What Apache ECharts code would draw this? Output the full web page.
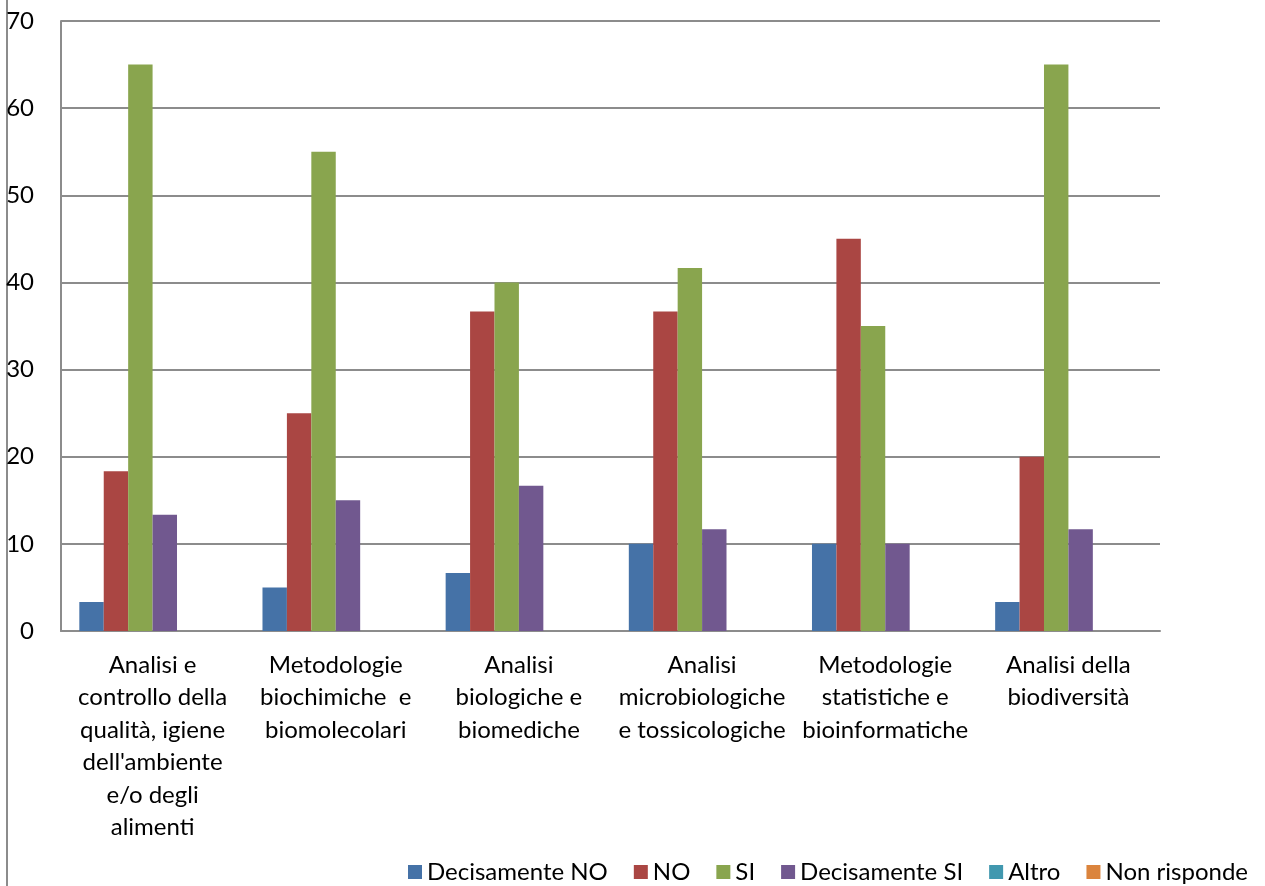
<!DOCTYPE html>
<html>
<head>
<meta charset="utf-8">
<script src="https://cdn.jsdelivr.net/npm/echarts@6/dist/echarts.min.js"></script>
<style>
html,body{margin:0;padding:0;background:#fff;}
#c{width:1265px;height:886px;}
</style>
</head>
<body>
<div id="c"></div>
<script>
const categories = [
  "Analisi e\ncontrollo della\nqualità, igiene\ndell'ambiente\ne/o degli\nalimenti",
  "Metodologie\nbiochimiche  e\nbiomolecolari",
  "Analisi\nbiologiche e\nbiomediche",
  "Analisi\nmicrobiologiche\ne tossicologiche",
  "Metodologie\nstatistiche e\nbioinformatiche",
  "Analisi della\nbiodiversità"
];
const seriesNames = ["Decisamente NO", "NO", "SI", "Decisamente SI", "Altro", "Non risponde"];
const decisamenteNO = [3.33, 5, 6.67, 10, 10, 3.33];
const no = [18.33, 25, 36.67, 36.67, 45, 20];
const si = [65, 55, 40, 41.67, 35, 65];
const decisamenteSI = [13.33, 15, 16.67, 11.67, 10, 11.67];
const altro = [0, 0, 0, 0, 0, 0];
const nonRisponde = [0, 0, 0, 0, 0, 0];
const yTicks = [0, 10, 20, 30, 40, 50, 60, 70];

const colors = ["#4572A7", "#AA4643", "#89A54E", "#71588F", "#4198AF", "#DB843D"];
const values = [decisamenteNO, no, si, decisamenteSI, altro, nonRisponde];
const font = "Lato, 'Open Sans', sans-serif";

const chart = echarts.init(document.getElementById('c'));
chart.setOption({
  animation: false,
  color: colors,
  textStyle: { fontFamily: font, color: '#000' },
  grid: { left: 61, top: 21, right: 105, bottom: 255, containLabel: false },
  legend: {
    data: seriesNames,
    right: 12, top: 855,
    icon: 'rect', itemWidth: 14, itemHeight: 14, itemGap: 26,
    textStyle: { fontSize: 24, fontFamily: font, color: '#000' }
  },
  xAxis: {
    type: 'category',
    data: categories,
    axisLine: { lineStyle: { color: '#8c8c8c', width: 2 } },
    axisTick: { show: false },
    axisLabel: {
      interval: 0, fontSize: 24, lineHeight: 32.5, color: '#000',
      fontFamily: font, margin: 18, verticalAlign: 'top', align: 'center'
    }
  },
  yAxis: {
    type: 'value', min: yTicks[0], max: yTicks[yTicks.length-1], interval: 10,
    axisLine: { show: true, lineStyle: { color: '#8c8c8c', width: 2 } },
    axisTick: { show: false },
    splitLine: { lineStyle: { color: '#8c8c8c', width: 2 } },
    axisLabel: { fontSize: 24, color: '#000', fontFamily: font, margin: 27 }
  },
  series: seriesNames.map((n, i) => ({
    name: n, type: 'bar', data: values[i],
    barGap: '0%', barCategoryGap: '20%'
  })),
  graphic: [{
    type: 'line', shape: { x1: 7, y1: 0, x2: 7, y2: 886 },
    style: { stroke: '#8c8c8c', lineWidth: 2 }
  }]
});
</script>
</body>
</html>
